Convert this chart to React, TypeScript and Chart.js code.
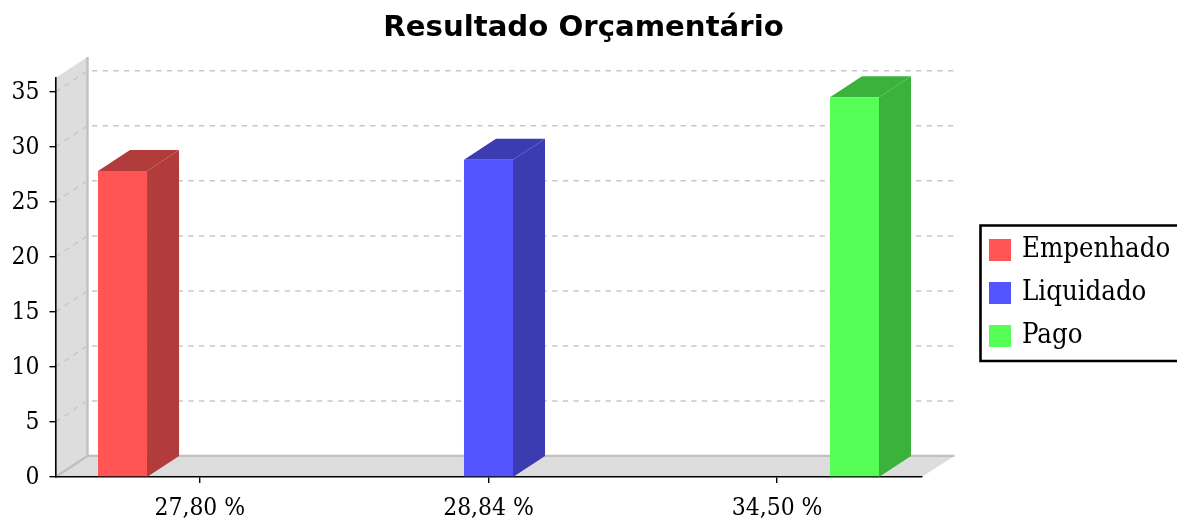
import React, { useEffect, useRef } from "react";
import { Chart, registerables } from "chart.js";

Chart.register(...registerables);

const titleText = "Resultado Orçamentário";
const categories = ["27,80 %", "28,84 %", "34,50 %"];
const empenhado = [27.8, null, null];
const liquidado = [null, 28.84, null];
const pago = [null, null, 34.5];
const seriesNames = ["Empenhado", "Liquidado", "Pago"];
const frontColors = ["#FF5555", "#5555FF", "#55FF55"];
const sideColors = ["#B23B3B", "#3B3BB2", "#3BB23B"];
const yTicks = [0, 5, 10, 15, 20, 25, 30, 35];
const yMax = 36.26;

const DEPTH_X = 32;
const DEPTH_Y = 21;
const SERIF = '"DejaVu Serif Condensed", "DejaVu Serif", serif';

function poly(ctx: CanvasRenderingContext2D, pts: number[][], fill: string) {
  ctx.beginPath();
  pts.forEach((p, i) => (i ? ctx.lineTo(p[0], p[1]) : ctx.moveTo(p[0], p[1])));
  ctx.closePath();
  ctx.fillStyle = fill;
  ctx.fill();
}

const scenePlugin = {
  id: "scene3d",
  beforeDraw(chart: any) {
    const { ctx, chartArea: a, scales } = chart;
    const backRight = a.right + DEPTH_X + 1;
    const bx = a.left + DEPTH_X;
    const by = a.bottom - DEPTH_Y;
    ctx.save();
    // left wall and floor
    poly(ctx, [[a.left, a.bottom], [a.left, a.top], [bx, a.top - DEPTH_Y], [bx, by]], "#DDDDDD");
    poly(ctx, [[a.left, a.bottom], [bx, by], [backRight, by], [a.right, a.bottom]], "#DDDDDD");
    // wall outlines
    ctx.strokeStyle = "#C0C0C0";
    ctx.lineWidth = 2.4;
    ctx.beginPath();
    ctx.moveTo(bx, a.top - DEPTH_Y);
    ctx.lineTo(bx, by);
    ctx.lineTo(backRight, by);
    ctx.moveTo(bx, by);
    ctx.lineTo(a.left, a.bottom);
    ctx.stroke();
    // dashed grid
    ctx.strokeStyle = "#C8C8C8";
    ctx.lineWidth = 1.5;
    ctx.setLineDash([5.3, 5.4]);
    yTicks.slice(1).forEach((v) => {
      const y = scales.y.getPixelForValue(v);
      ctx.beginPath();
      ctx.moveTo(a.left, y);
      ctx.lineTo(bx, y - DEPTH_Y);
      ctx.lineTo(backRight, y - DEPTH_Y);
      ctx.stroke();
    });
    ctx.restore();
  },
  beforeDatasetsDraw(chart: any) {
    const { ctx, scales } = chart;
    const base = scales.y.getPixelForValue(0);
    chart.data.datasets.forEach((_: any, di: number) => {
      chart.getDatasetMeta(di).data.forEach((bar: any, i: number) => {
        const v = chart.data.datasets[di].data[i];
        if (v === null) return;
        const p = bar.getProps(["x", "y", "width"], true);
        const x0 = p.x - p.width / 2;
        const x1 = p.x + p.width / 2;
        const top = p.y;
        poly(ctx, [[x0, top], [x0 + DEPTH_X, top - DEPTH_Y], [x1 + DEPTH_X, top - DEPTH_Y], [x1, top]], sideColors[di]);
        poly(ctx, [[x1, top], [x1 + DEPTH_X, top - DEPTH_Y], [x1 + DEPTH_X, base - DEPTH_Y], [x1, base]], sideColors[di]);
      });
    });
  },
  afterDraw(chart: any) {
    const { ctx } = chart;
    ctx.save();
    // title
    ctx.fillStyle = "#000000";
    ctx.font = 'bold 29.2px "DejaVu Sans", sans-serif';
    ctx.textAlign = "center";
    ctx.textBaseline = "middle";
    ctx.fillText(titleText, 583.5, 28);
    // legend
    ctx.strokeStyle = "#000000";
    ctx.lineWidth = 2.6;
    ctx.fillStyle = "#FFFFFF";
    ctx.beginPath();
    ctx.rect(980.5, 225.5, 210, 135.5);
    ctx.fill();
    ctx.stroke();
    ctx.font = "27.3px " + SERIF;
    ctx.textAlign = "left";
    chart.data.datasets.forEach((d: any, i: number) => {
      const cy = 250 + i * 43;
      ctx.fillStyle = d.backgroundColor;
      ctx.fillRect(989, cy - 11, 22, 22);
      ctx.fillStyle = "#000000";
      ctx.fillText(d.label, 1022, cy);
    });
    ctx.restore();
  },
};

export default function App() {
  const ref = useRef<HTMLCanvasElement>(null);
  useEffect(() => {
    const series = [empenhado, liquidado, pago];
    const chart = new Chart(ref.current as HTMLCanvasElement, {
      type: "bar",
      data: {
        labels: categories,
        datasets: series.map((data, i) => ({
          label: seriesNames[i],
          data,
          backgroundColor: frontColors[i],
          borderWidth: 0,
          categoryPercentage: 0.8035,
          barPercentage: 0.634,
        })),
      },
      options: {
        responsive: false,
        animation: false,
        layout: { padding: { top: 78, right: 255.5, left: 0, bottom: 0 } },
        plugins: { legend: { display: false }, title: { display: false }, tooltip: { enabled: false } },
        scales: {
          x: {
            afterFit: (s: any) => { s.height = 43.1; },
            grid: { offset: false, drawOnChartArea: false, drawTicks: true, tickLength: 6, color: "#000000", lineWidth: 1.4 },
            border: { color: "#000000", width: 1.6 },
            ticks: { color: "#000000", font: { family: SERIF, size: 24.4 }, padding: 11, maxRotation: 0 },
          },
          y: {
            min: 0,
            max: yMax,
            afterFit: (s: any) => { s.width = 55.5; },
            afterBuildTicks: (s: any) => { s.ticks = yTicks.map((value) => ({ value })); },
            grid: { drawOnChartArea: false, drawTicks: true, tickLength: 6, color: "#000000", lineWidth: 1.4 },
            border: { color: "#000000", width: 1.6 },
            ticks: { color: "#000000", font: { family: SERIF, size: 24.4 }, padding: 10, labelOffset: 1 },
          },
        },
      },
      plugins: [scenePlugin],
    } as any);
    return () => chart.destroy();
  }, []);
  return (
    <div style={{ position: "absolute", left: 0, top: 0, width: 1177, height: 520 }}>
      <canvas ref={ref} width={1177} height={520} style={{ display: "block" }} />
    </div>
  );
}
